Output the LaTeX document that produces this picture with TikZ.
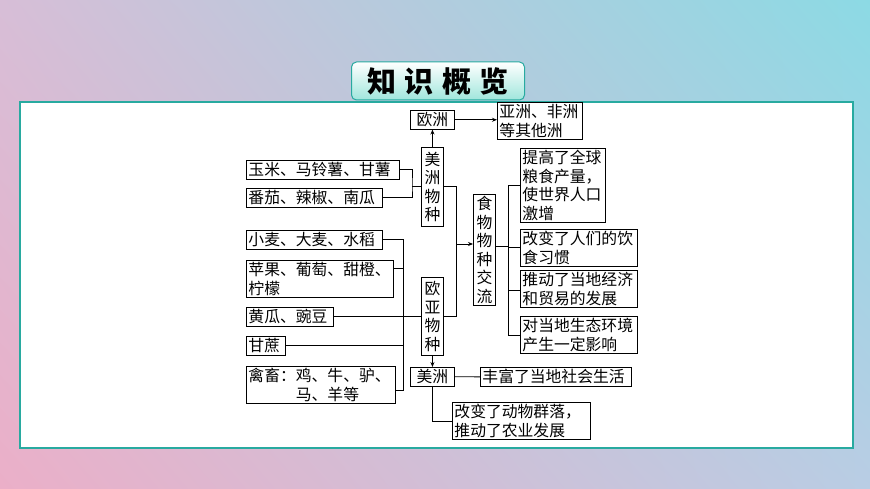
\documentclass[tikz,border=0pt]{standalone}
\usepackage{fontspec}
\setmainfont{Noto Sans CJK SC}
\usetikzlibrary{arrows.meta,shadings}
\definecolor{teal1}{RGB}{40,170,160}
\definecolor{bgul}{RGB}{215,190,215}
\definecolor{bgur}{RGB}{140,218,228}
\definecolor{bgll}{RGB}{235,175,200}
\definecolor{bglr}{RGB}{185,205,228}
\definecolor{titlefill}{RGB}{160,230,220}
\tikzset{
  box/.style={draw, line width=0.9pt, fill=white, inner sep=2pt, anchor=north west,
    align=left, font=\fontsize{15.8}{18.5}\selectfont},
  vbox/.style={box, align=center, text width=18pt, inner sep=2pt},
  link/.style={line width=0.9pt},
  arr/.style={link, -{Stealth[length=5pt,width=4pt]}}
}
\begin{document}
\begin{tikzpicture}[x=1pt,y=-1pt]
\useasboundingbox (0,0) rectangle (870,489);
% background
\shade[upper left=bgul, upper right=bgur, lower left=bgll, lower right=bglr]
  (0,0) rectangle (870,489);
\draw[teal1, line width=1.5pt, fill=white] (20,102) rectangle (853,448);
\node[draw=teal1, line width=1pt, rounded corners=5pt, top color=white, bottom color=titlefill,
  minimum width=173pt, minimum height=38pt, font=\fontsize{29}{30}\selectfont\bfseries] (title) at (438,81) {知\;识\;概\;览};
% boxes
\node[box, text width=40pt, align=center] (ouzhou) at (410,110) {欧洲};
\node[box, text width=81pt] (yafei) at (497,102) {亚洲、非洲\\等其他洲};
\node[vbox, minimum height=79pt] (mzwz) at (421,147) {美\\洲\\物\\种};
\node[box, text width=149pt] (yumi) at (246,160) {玉米、马铃薯、甘薯};
\node[box, text width=132pt] (fanqie) at (246,188) {番茄、辣椒、南瓜};
\node[vbox, minimum height=103pt] (shiwu) at (473,194) {食\\物\\物\\种\\交\\流};
\node[box, text width=81pt] (tigao) at (520,148) {提高了全球\\粮食产量，\\使世界人口\\激增};
\node[box, text width=113pt] (gaibian) at (520,229) {改变了人们的饮\\食习惯};
\node[box, text width=113pt] (tuidong) at (520,270) {推动了当地经济\\和贸易的发展};
\node[box, text width=113pt] (shengtai) at (520,316) {对当地生态环境\\产生一定影响};
\node[box, text width=132pt] (xiaomai) at (246,230) {小麦、大麦、水稻};
\node[box, text width=143pt] (pingguo) at (246,260) {苹果、葡萄、甜橙、\\柠檬};
\node[box, text width=83pt] (huanggua) at (246,307) {黄瓜、豌豆};
\node[box, text width=35pt] (ganzhe) at (246,336) {甘蔗};
\node[box, text width=145pt] (qinxu) at (246,366) {禽畜：鸡、牛、驴、\\\hphantom{禽畜：}马、羊等};
\node[vbox, minimum height=78pt] (oywz) at (421,277) {欧\\亚\\物\\种};
\node[box, text width=40pt, align=center] (meizhou) at (410,367) {美洲};
\node[box, text width=147pt] (fengfu) at (480,367) {丰富了当地社会生活};
\node[box, text width=134pt] (qunluo) at (452,402) {改变了动物群落，\\推动了农业发展};
% connectors
\draw[arr] (mzwz.north) -- (ouzhou.south);
\draw[arr] (ouzhou.east) -- (yafei.west |- ouzhou.east);
\coordinate (lb) at (412,186);
\draw[link] (yumi.east) -| (lb) |- (fanqie.east);
\draw[link] (lb) -- (mzwz.west |- lb);
\coordinate (rb) at (456,244);
\draw[link] (mzwz.east |- 0,186) -| (rb |- 0,316) -- (oywz.east |- 0,316);
\draw[arr] (rb) -- (shiwu.west |- rb);
\coordinate (sb) at (508,246);
\draw[link] (shiwu.east |- sb) -- (sb);
\draw[link] (tigao.west |- 0,185) -| (sb |- 0,335) -- (shengtai.west |- 0,335);
\draw[link] (sb |- 0,247) -- (gaibian.west |- 0,247);
\draw[link] (sb |- 0,290) -- (tuidong.west |- 0,290);
\coordinate (eb) at (403,241);
\draw[link] (xiaomai.east) -| (eb |- 0,390) -- (qinxu.east |- 0,390);
\draw[link] (pingguo.east |- 0,268) -- (eb |- 0,268);
\draw[link] (huanggua.east) -- (oywz.west |- huanggua.east);
\draw[link] (ganzhe.east) -- (eb |- ganzhe.east);
\draw[arr] (oywz.south) -- (meizhou.north);
\draw[link] (meizhou.east) -- (fengfu.west);
\draw[link] (meizhou.south) |- (qunluo.west);
\end{tikzpicture}
\end{document}
